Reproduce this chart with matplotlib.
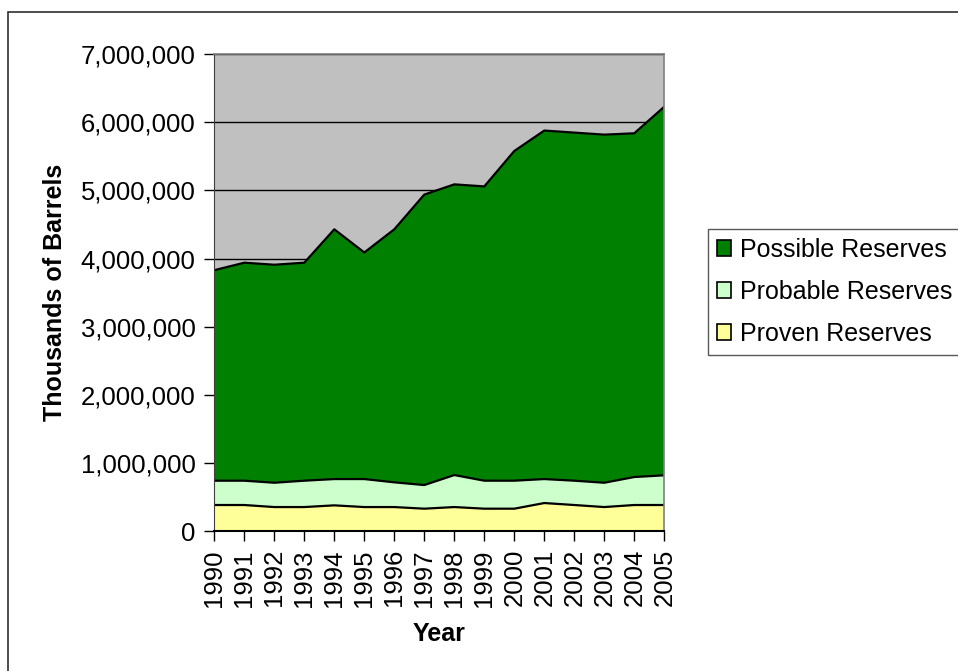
import matplotlib
matplotlib.use('Agg')
import matplotlib.pyplot as plt
from matplotlib.patches import Rectangle
from matplotlib.ticker import FuncFormatter, MultipleLocator

plt.rcParams['font.family'] = ['Liberation Sans', 'DejaVu Sans']

years = list(range(1990, 2006))
# cumulative tops of each band (thousands of barrels)
proven = [382000, 382000, 352000, 352000, 377000, 352000, 352000, 328000,
          352000, 328000, 328000, 411000, 382000, 352000, 382000, 382000]
probable_top = [739000, 739000, 709000, 739000, 763000, 763000, 715000, 675000,
                822000, 739000, 739000, 763000, 739000, 709000, 793000, 818000]
total = [3830000, 3940000, 3910000, 3940000, 4430000, 4090000, 4430000, 4940000,
         5090000, 5060000, 5580000, 5880000, 5850000, 5820000, 5840000, 6230000]

probable = [t - p for t, p in zip(probable_top, proven)]
possible = [t - p for t, p in zip(total, probable_top)]

fig = plt.figure(figsize=(9.58, 6.71), dpi=100)
ax = fig.add_axes([0.2237, 0.2086, 0.4697, 0.7105])
ax.set_facecolor('#C0C0C0')

colors = ['#FFFF99', '#CCFFCC', '#008000']
labels = ['Proven Reserves', 'Probable Reserves', 'Possible Reserves']
ax.stackplot(years, proven, probable, possible, colors=colors,
             labels=labels, edgecolor='none', zorder=2)
for ys in (proven, probable_top, total):
    ax.plot(years, ys, color='black', lw=1.6, zorder=3)

ax.set_xlim(1990, 2005)
ax.set_ylim(0, 7000000)
ax.yaxis.set_major_locator(MultipleLocator(1000000))
ax.yaxis.set_major_formatter(FuncFormatter(lambda v, p: f'{int(v):,}'))
ax.set_xticks(years)
ax.set_xticklabels([str(y) for y in years], rotation=90, fontsize=18.5)
ax.tick_params(axis='y', labelsize=18.5, length=7, width=1, direction='out', pad=6.5)
ax.tick_params(axis='x', length=7, width=1, direction='out', pad=6)
ax.grid(axis='y', color='black', lw=1, zorder=1)
ax.set_axisbelow(True)

for side in ('top', 'right'):
    ax.spines[side].set_color('#808080')
    ax.spines[side].set_linewidth(1.2)
ax.spines['left'].set_color('#404040')
ax.spines['bottom'].set_color('black')
ax.spines['bottom'].set_linewidth(1.5)
for s in ax.spines.values():
    s.set_zorder(4)

ax.set_xlabel('Year', fontsize=18, fontweight='bold', labelpad=11)
ax.set_ylabel('Thousands of Barrels', fontsize=18, fontweight='bold', labelpad=10)

handles = [Rectangle((0, 0), 1, 1, facecolor=c, edgecolor='black', lw=1.2)
           for c in colors]
leg = fig.legend(handles[::-1], labels[::-1], loc='upper left',
                 bbox_to_anchor=(708 / 958, 1 - 229 / 671), fontsize=18,
                 frameon=True, fancybox=False, handlelength=0.56, handleheight=0.56,
                 handletextpad=0.36, labelspacing=0.72, borderpad=0.35,
                 borderaxespad=0)
leg.get_frame().set_edgecolor('#303030')
leg.get_frame().set_linewidth(1)

# chart area border
fig.patches.append(Rectangle((8 / 958, -0.1), 1.2, 1 - 12 / 671 + 0.1,
                             transform=fig.transFigure, fill=False,
                             edgecolor='#303030', lw=1.2))

fig.savefig('out.png', dpi=100)
